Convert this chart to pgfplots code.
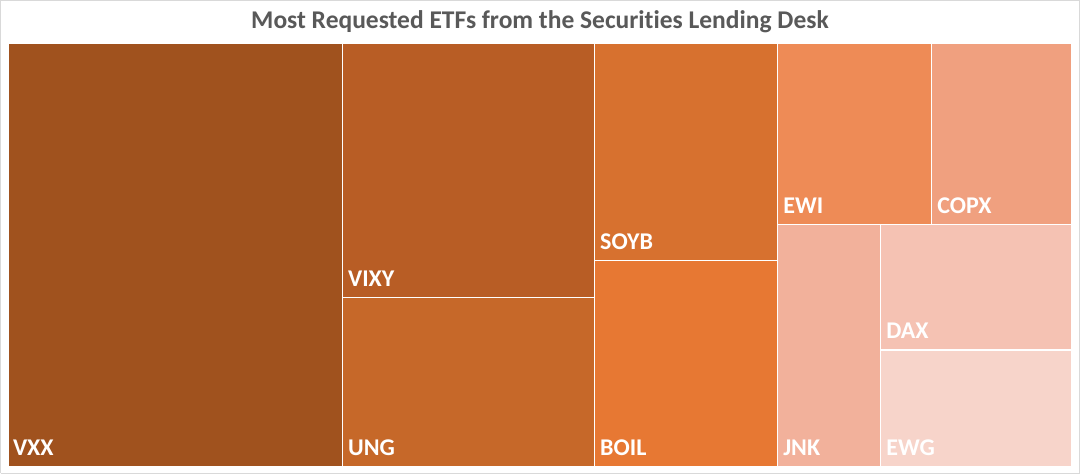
\documentclass[border=0pt]{standalone}
\usepackage{pgfplots}
\pgfplotsset{compat=1.18}
\usepackage{fontspec}
\setmainfont{Carlito}[Ligatures=CommonOff]
\definecolor{cVXX}{HTML}{A0521E}
\definecolor{cVIXY}{HTML}{B85D25}
\definecolor{cUNG}{HTML}{C66829}
\definecolor{cSOYB}{HTML}{D7712F}
\definecolor{cBOIL}{HTML}{E77833}
\definecolor{cEWI}{HTML}{EE8B56}
\definecolor{cCOPX}{HTML}{F0A07F}
\definecolor{cJNK}{HTML}{F2B19B}
\definecolor{cDAX}{HTML}{F5C2B3}
\definecolor{cEWG}{HTML}{F7D4CA}
\definecolor{titlegray}{HTML}{595959}
\definecolor{framegray}{HTML}{D9D9D9}
\begin{document}
\begin{tikzpicture}
\begin{axis}[
  scale only axis, width=1080pt, height=475pt,
  xmin=0, xmax=1080, ymin=0, ymax=475,
  hide axis, clip=false,
  every axis plot/.append style={draw=white, line width=1.6pt},
]
% background and frame
\addplot[fill=white, draw=framegray, line width=1.2pt] coordinates {(0.8,1.5) (1079.2,1.5) (1079.2,474.2) (0.8,474.2) (0.8,1.5)};
% treemap tiles: (x0,y0) (x1,y0) (x1,y1) (x0,y1)
\addplot[fill=cVXX]  coordinates {(8,8) (342.5,8) (342.5,432) (8,432) (8,8)};
\addplot[fill=cVIXY] coordinates {(342.5,177.5) (594.5,177.5) (594.5,432) (342.5,432) (342.5,177.5)};
\addplot[fill=cUNG]  coordinates {(342.5,8) (594.5,8) (594.5,177.5) (342.5,177.5) (342.5,8)};
\addplot[fill=cSOYB] coordinates {(594.5,214.5) (777.5,214.5) (777.5,432) (594.5,432) (594.5,214.5)};
\addplot[fill=cBOIL] coordinates {(594.5,8) (777.5,8) (777.5,214.5) (594.5,214.5) (594.5,8)};
\addplot[fill=cEWI]  coordinates {(777.5,250.5) (931.5,250.5) (931.5,432) (777.5,432) (777.5,250.5)};
\addplot[fill=cCOPX] coordinates {(931.5,250.5) (1072,250.5) (1072,432) (931.5,432) (931.5,250.5)};
\addplot[fill=cJNK]  coordinates {(777.5,8) (880.5,8) (880.5,250.5) (777.5,250.5) (777.5,8)};
\addplot[fill=cDAX]  coordinates {(880.5,125) (1072,125) (1072,250.5) (880.5,250.5) (880.5,125)};
\addplot[fill=cEWG]  coordinates {(880.5,8) (1072,8) (1072,125) (880.5,125) (880.5,8)};
% labels
\tikzset{lab/.style={anchor=base west, text=white, font=\fontsize{24}{27}\selectfont\bfseries, inner sep=0pt}}
\node[lab] at (axis cs:13,19) {VXX};
\node[lab] at (axis cs:348,188.5) {VIXY};
\node[lab] at (axis cs:348,19) {UNG};
\node[lab] at (axis cs:600,225.5) {SOYB};
\node[lab] at (axis cs:600,19) {BOIL};
\node[lab] at (axis cs:783,261.5) {EWI};
\node[lab] at (axis cs:937,261.5) {COPX};
\node[lab] at (axis cs:783,19) {JNK};
\node[lab] at (axis cs:886,136) {DAX};
\node[lab] at (axis cs:886,19) {EWG};
\node[anchor=base, text=titlegray, font=\fontsize{25.5}{29}\selectfont\bfseries, inner sep=0pt] at (axis cs:540,446) {Most Requested ETFs from the Securities Lending Desk};
\end{axis}
\end{tikzpicture}
\end{document}
